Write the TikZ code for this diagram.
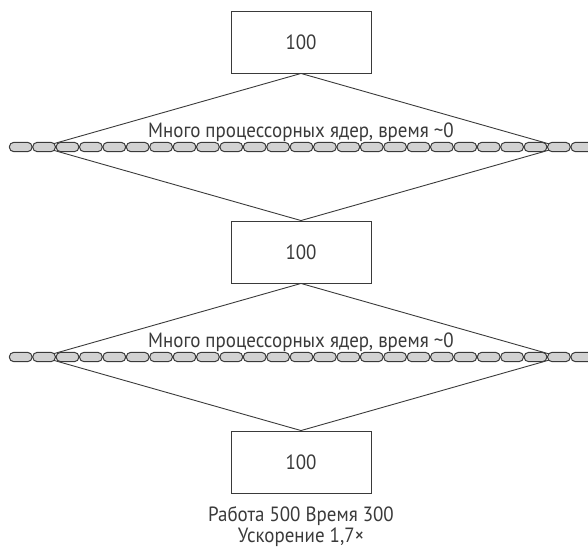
\documentclass[tikz,border=0pt]{standalone}
\usepackage{fontspec}
\setmainfont[FakeStretch=0.92]{PT Sans}
\definecolor{ink}{HTML}{3A3A3A}
\definecolor{bead}{HTML}{D2D2D2}

\begin{document}
\begin{tikzpicture}[x=1pt,y=-1pt,line width=0.9pt,
  box/.style={draw=ink,minimum width=140pt,minimum height=62pt,inner sep=0pt,text=ink,font=\fontsize{20.6}{22}\selectfont},
  txt/.style={text=ink,font=\fontsize{20.6}{22}\selectfont,inner sep=0pt},
  capsule/.style={draw=ink,fill=bead,line width=1pt,rounded corners=4.6pt}]
\useasboundingbox (0,0) rectangle (588,549);
% the three serial parts
\node[box] (box1) at (301,42) {100};
\node[box] (box2) at (301,252) {100};
\node[box] (box3) at (301,462) {100};
% parallel parts
\coordinate (w1) at (42,147);
\coordinate (e1) at (560,147);
\coordinate (w2) at (42,357);
\coordinate (e2) at (560,357);
\draw[ink] (box1.south) -- (w1) -- (box2.north) -- (e1) -- cycle;
\draw[ink] (box2.south) -- (w2) -- (box3.north) -- (e2) -- cycle;
\foreach \y in {147,357}{
  \foreach \i in {0,...,24}{
    \draw[capsule] ({9+23.4*\i+0.3},\y-4.7) rectangle ({9+23.4*(\i+1)-0.3},\y+4.7);
  }
}
\node[txt,anchor=base] (par1) at (301,137) {Много процессорных ядер, время \textasciitilde 0};
\node[txt,anchor=base] (par2) at (301,347) {Много процессорных ядер, время \textasciitilde 0};
% totals
\node[txt,anchor=base] (sum1) at (301,521) {Работа 500 Время 300};
\node[txt,anchor=base] (sum2) at (301,542) {Ускорение 1,7×};
\end{tikzpicture}
\end{document}
